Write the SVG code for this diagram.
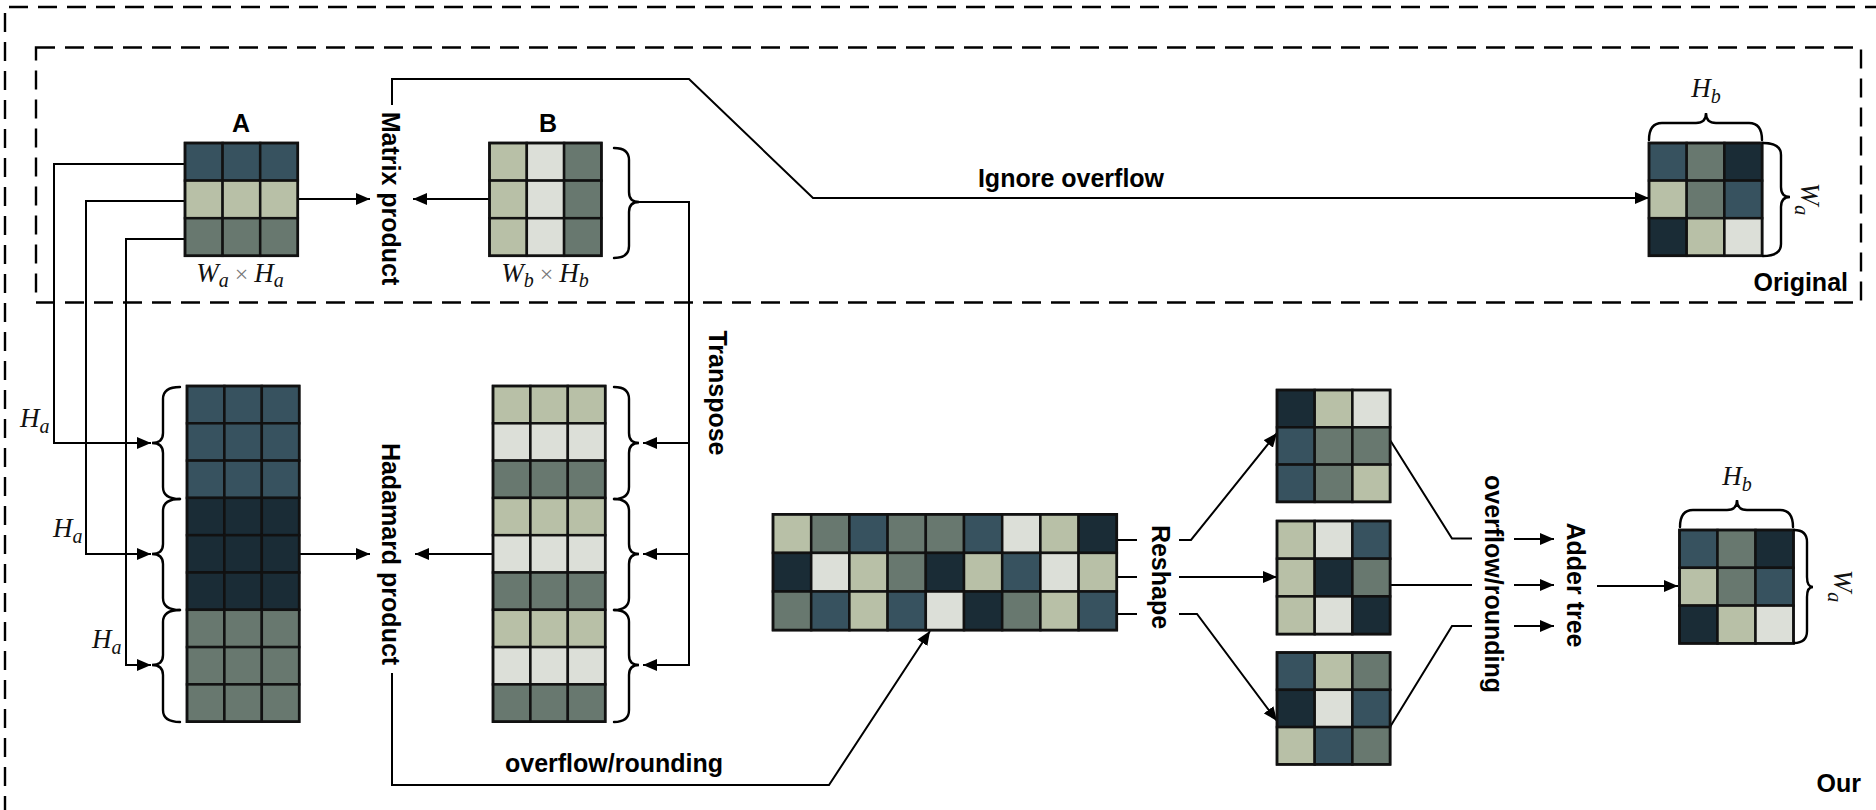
<svg xmlns="http://www.w3.org/2000/svg" width="1876" height="810" viewBox="0 0 1876 810">
  <defs>
    <style>
      .ln{fill:none;stroke:#000;stroke-width:2}
      .arr{marker-end:url(#ah)}
      .br{fill:none;stroke:#000;stroke-width:2.4;stroke-linecap:round}
      .dash{fill:none;stroke:#000;stroke-width:2.4;stroke-dasharray:19 10}
      .cells rect{stroke:#111;stroke-width:2.5}
      .frame{fill:none;stroke:#111;stroke-width:3.5}
      .s{fill:#37525f}.n{fill:#1a2c36}.g{fill:#68786f}.b{fill:#b8c0a7}.l{fill:#dcdfd8}
      .lbl{font-family:"Liberation Sans",Arial,sans-serif;font-weight:bold;font-size:25px;fill:#000}
      .m{font-family:"Liberation Serif","Times New Roman",serif;font-style:italic;font-size:27px;fill:#111}
      .sub{font-size:20px}
      .x{font-style:normal;fill:#777;font-size:24px}
    </style>
    <marker id="ah" markerUnits="userSpaceOnUse" markerWidth="15" markerHeight="12" refX="14" refY="6" orient="auto">
      <path d="M0,0 L14,6 L0,12 z" fill="#000"/>
    </marker>
  </defs>
  <rect width="1876" height="810" fill="#fff"/>

  <!-- dashed frames -->
  <g id="frames">
    <path class="dash" d="M5,815 V7 H1880"/>
    <rect class="dash" x="36" y="47.5" width="1825" height="255"/>
    <text class="lbl" x="1848" y="291" text-anchor="end">Original</text>
    <text class="lbl" x="1861" y="792" text-anchor="end">Our</text>
  </g>

  <!-- connectors -->
  <g id="connectors">
    <path class="ln arr" d="M185,164 H54 V443 H151"/>
    <path class="ln arr" d="M185,201 H86 V554 H151"/>
    <path class="ln arr" d="M185,239 H126 V665 H151"/>
    <path class="ln arr" d="M298,199 H370"/>
    <path class="ln arr" d="M489.5,199 H413"/>
    <path class="ln arr" d="M638,202 H689 V665 H643"/>
    <path class="ln arr" d="M689,443 H643"/>
    <path class="ln arr" d="M689,554 H643"/>
    <path class="ln arr" d="M392,105 V79 H689 L813,198 H1649"/>
    <path class="ln arr" d="M299,554 H370"/>
    <path class="ln arr" d="M493,554 H415"/>
    <path class="ln arr" d="M392,673 V785 H829 L930,631"/>
    <path class="ln" d="M1116,540 H1137 M1116,577 H1137 M1116,614 H1137"/>
    <path class="ln arr" d="M1179,540 H1191 L1277,433"/>
    <path class="ln arr" d="M1179,577 H1277"/>
    <path class="ln arr" d="M1179,614 H1197 L1277,721"/>
    <path class="ln" d="M1390,440 L1452,538.5 H1472 M1390,585 H1472 M1390,727 L1452,626 H1472"/>
    <path class="ln arr" d="M1514,539 H1554"/>
    <path class="ln arr" d="M1514,585 H1554"/>
    <path class="ln arr" d="M1514,626 H1554"/>
    <path class="ln arr" d="M1597,586 H1678"/>
  </g>

  <!-- operation labels -->
  <g id="ops">
    <text class="lbl" transform="translate(382,198.5) rotate(90)" text-anchor="middle">Matrix product</text>
    <text class="lbl" transform="translate(382,554) rotate(90)" text-anchor="middle">Hadamard product</text>
    <text class="lbl" transform="translate(709,393) rotate(90)" text-anchor="middle">Transpose</text>
    <text class="lbl" transform="translate(1151.5,577) rotate(90)" text-anchor="middle">Reshape</text>
    <text class="lbl" transform="translate(1485,584) rotate(90)" text-anchor="middle">overflow/rounding</text>
    <text class="lbl" transform="translate(1566.5,585) rotate(90)" text-anchor="middle">Adder tree</text>
    <text class="lbl" x="1071" y="187" text-anchor="middle">Ignore overflow</text>
    <text class="lbl" x="614" y="772" text-anchor="middle">overflow/rounding</text>
  </g>

  <!-- matrix A -->
  <g id="matA">
    <text class="lbl" x="241" y="132" text-anchor="middle">A</text>
    <g class="cells" transform="translate(185,143)">
      <rect class="s" x="0" y="0" width="37.6" height="37.6"/><rect class="s" x="37.6" y="0" width="37.6" height="37.6"/><rect class="s" x="75.2" y="0" width="37.6" height="37.6"/>
      <rect class="b" x="0" y="37.6" width="37.6" height="37.6"/><rect class="b" x="37.6" y="37.6" width="37.6" height="37.6"/><rect class="b" x="75.2" y="37.6" width="37.6" height="37.6"/>
      <rect class="g" x="0" y="75.2" width="37.6" height="37.6"/><rect class="g" x="37.6" y="75.2" width="37.6" height="37.6"/><rect class="g" x="75.2" y="75.2" width="37.6" height="37.6"/>
      <rect class="frame" x="0" y="0" width="112.8" height="112.8"/>
    </g>
    <text class="m" x="240" y="282" text-anchor="middle">W<tspan class="sub" dy="5">a</tspan><tspan class="x" dy="-5"> × </tspan>H<tspan class="sub" dy="5">a</tspan></text>
  </g>

  <!-- matrix B -->
  <g id="matB">
    <text class="lbl" x="548" y="132" text-anchor="middle">B</text>
    <g class="cells" transform="translate(489.5,143)">
      <rect class="b" x="0" y="0" width="37.3" height="37.6"/><rect class="l" x="37.3" y="0" width="37.3" height="37.6"/><rect class="g" x="74.6" y="0" width="37.3" height="37.6"/>
      <rect class="b" x="0" y="37.6" width="37.3" height="37.6"/><rect class="l" x="37.3" y="37.6" width="37.3" height="37.6"/><rect class="g" x="74.6" y="37.6" width="37.3" height="37.6"/>
      <rect class="b" x="0" y="75.2" width="37.3" height="37.6"/><rect class="l" x="37.3" y="75.2" width="37.3" height="37.6"/><rect class="g" x="74.6" y="75.2" width="37.3" height="37.6"/>
      <rect class="frame" x="0" y="0" width="111.9" height="112.8"/>
    </g>
    <path class="br" d="M614,148 Q629,148 629,160 V192 Q629,202 639,202 Q629,202 629,212 V246 Q629,258 614,258"/>
    <text class="m" x="545" y="282" text-anchor="middle">W<tspan class="sub" dy="5">b</tspan><tspan class="x" dy="-5"> × </tspan>H<tspan class="sub" dy="5">b</tspan></text>
  </g>

  <!-- A rows stacked into a column -->
  <g id="colA">
    <g class="cells" transform="translate(187,386)">
      <rect class="s" x="0" y="0" width="37.4" height="37.3"/><rect class="s" x="37.4" y="0" width="37.4" height="37.3"/><rect class="s" x="74.8" y="0" width="37.4" height="37.3"/>
      <rect class="s" x="0" y="37.3" width="37.4" height="37.3"/><rect class="s" x="37.4" y="37.3" width="37.4" height="37.3"/><rect class="s" x="74.8" y="37.3" width="37.4" height="37.3"/>
      <rect class="s" x="0" y="74.6" width="37.4" height="37.3"/><rect class="s" x="37.4" y="74.6" width="37.4" height="37.3"/><rect class="s" x="74.8" y="74.6" width="37.4" height="37.3"/>
      <rect class="n" x="0" y="111.9" width="37.4" height="37.3"/><rect class="n" x="37.4" y="111.9" width="37.4" height="37.3"/><rect class="n" x="74.8" y="111.9" width="37.4" height="37.3"/>
      <rect class="n" x="0" y="149.2" width="37.4" height="37.3"/><rect class="n" x="37.4" y="149.2" width="37.4" height="37.3"/><rect class="n" x="74.8" y="149.2" width="37.4" height="37.3"/>
      <rect class="n" x="0" y="186.5" width="37.4" height="37.3"/><rect class="n" x="37.4" y="186.5" width="37.4" height="37.3"/><rect class="n" x="74.8" y="186.5" width="37.4" height="37.3"/>
      <rect class="g" x="0" y="223.8" width="37.4" height="37.3"/><rect class="g" x="37.4" y="223.8" width="37.4" height="37.3"/><rect class="g" x="74.8" y="223.8" width="37.4" height="37.3"/>
      <rect class="g" x="0" y="261.1" width="37.4" height="37.3"/><rect class="g" x="37.4" y="261.1" width="37.4" height="37.3"/><rect class="g" x="74.8" y="261.1" width="37.4" height="37.3"/>
      <rect class="g" x="0" y="298.4" width="37.4" height="37.3"/><rect class="g" x="37.4" y="298.4" width="37.4" height="37.3"/><rect class="g" x="74.8" y="298.4" width="37.4" height="37.3"/>
      <rect class="frame" x="0" y="0" width="112.2" height="335.7"/>
    </g>
    <path class="br" d="M180,387 Q163,387 163,399 V433 Q163,443 152,443 Q163,443 163,453 V487 Q163,499 180,499"/>
    <path class="br" d="M180,499 Q163,499 163,511 V544 Q163,554 152,554 Q163,554 163,564 V598 Q163,610 180,610"/>
    <path class="br" d="M180,610 Q163,610 163,622 V655 Q163,665 152,665 Q163,665 163,675 V710 Q163,722 180,722"/>
    <text class="m" x="20" y="427" font-size="23">H<tspan class="sub" dy="6" font-size="17">a</tspan></text>
    <text class="m" x="53" y="537" font-size="23">H<tspan class="sub" dy="6" font-size="17">a</tspan></text>
    <text class="m" x="92" y="648" font-size="23">H<tspan class="sub" dy="6" font-size="17">a</tspan></text>
  </g>

  <!-- B transposed and tiled into a column -->
  <g id="colB">
    <g class="cells" transform="translate(493,386)">
      <rect class="b" x="0" y="0" width="37.4" height="37.3"/><rect class="b" x="37.4" y="0" width="37.4" height="37.3"/><rect class="b" x="74.8" y="0" width="37.4" height="37.3"/>
      <rect class="l" x="0" y="37.3" width="37.4" height="37.3"/><rect class="l" x="37.4" y="37.3" width="37.4" height="37.3"/><rect class="l" x="74.8" y="37.3" width="37.4" height="37.3"/>
      <rect class="g" x="0" y="74.6" width="37.4" height="37.3"/><rect class="g" x="37.4" y="74.6" width="37.4" height="37.3"/><rect class="g" x="74.8" y="74.6" width="37.4" height="37.3"/>
      <rect class="b" x="0" y="111.9" width="37.4" height="37.3"/><rect class="b" x="37.4" y="111.9" width="37.4" height="37.3"/><rect class="b" x="74.8" y="111.9" width="37.4" height="37.3"/>
      <rect class="l" x="0" y="149.2" width="37.4" height="37.3"/><rect class="l" x="37.4" y="149.2" width="37.4" height="37.3"/><rect class="l" x="74.8" y="149.2" width="37.4" height="37.3"/>
      <rect class="g" x="0" y="186.5" width="37.4" height="37.3"/><rect class="g" x="37.4" y="186.5" width="37.4" height="37.3"/><rect class="g" x="74.8" y="186.5" width="37.4" height="37.3"/>
      <rect class="b" x="0" y="223.8" width="37.4" height="37.3"/><rect class="b" x="37.4" y="223.8" width="37.4" height="37.3"/><rect class="b" x="74.8" y="223.8" width="37.4" height="37.3"/>
      <rect class="l" x="0" y="261.1" width="37.4" height="37.3"/><rect class="l" x="37.4" y="261.1" width="37.4" height="37.3"/><rect class="l" x="74.8" y="261.1" width="37.4" height="37.3"/>
      <rect class="g" x="0" y="298.4" width="37.4" height="37.3"/><rect class="g" x="37.4" y="298.4" width="37.4" height="37.3"/><rect class="g" x="74.8" y="298.4" width="37.4" height="37.3"/>
      <rect class="frame" x="0" y="0" width="112.2" height="335.7"/>
    </g>
    <path class="br" d="M614,387 Q629,387 629,399 V433 Q629,443 639,443 Q629,443 629,453 V487 Q629,499 614,499"/>
    <path class="br" d="M614,499 Q629,499 629,511 V544 Q629,554 639,554 Q629,554 629,564 V598 Q629,610 614,610"/>
    <path class="br" d="M614,610 Q629,610 629,622 V655 Q629,665 639,665 Q629,665 629,675 V710 Q629,722 614,722"/>
  </g>

  <!-- result of the original product -->
  <g id="resOrig">
    <g class="cells" transform="translate(1649,143)">
      <rect class="s" x="0" y="0" width="37.7" height="37.6"/><rect class="g" x="37.7" y="0" width="37.7" height="37.6"/><rect class="n" x="75.4" y="0" width="37.7" height="37.6"/>
      <rect class="b" x="0" y="37.6" width="37.7" height="37.6"/><rect class="g" x="37.7" y="37.6" width="37.7" height="37.6"/><rect class="s" x="75.4" y="37.6" width="37.7" height="37.6"/>
      <rect class="n" x="0" y="75.2" width="37.7" height="37.6"/><rect class="b" x="37.7" y="75.2" width="37.7" height="37.6"/><rect class="l" x="75.4" y="75.2" width="37.7" height="37.6"/>
      <rect class="frame" x="0" y="0" width="113.1" height="112.8"/>
    </g>
    <path class="br" d="M1649,140 Q1649,123 1662,123 H1696 Q1706,123 1706,113 Q1706,123 1716,123 H1749 Q1762,123 1762,140"/>
    <path class="br" d="M1763,143 Q1781,143 1781,155 V187 Q1781,197 1790,197 Q1781,197 1781,207 V244 Q1781,256 1763,256"/>
    <text class="m" x="1706" y="97" text-anchor="middle" font-size="24">H<tspan class="sub" dy="6" font-size="18">b</tspan></text>
    <text class="m" transform="translate(1801,199) rotate(90)" text-anchor="middle">W<tspan class="sub" dy="6">a</tspan></text>
  </g>

  <!-- Hadamard result laid out flat -->
  <g id="flat">
    <g class="cells" transform="translate(773,514.3)">
      <rect class="b" x="0" y="0" width="38.2" height="38.6"/><rect class="g" x="38.2" y="0" width="38.2" height="38.6"/><rect class="s" x="76.4" y="0" width="38.2" height="38.6"/><rect class="g" x="114.6" y="0" width="38.2" height="38.6"/><rect class="g" x="152.8" y="0" width="38.2" height="38.6"/><rect class="s" x="191" y="0" width="38.2" height="38.6"/><rect class="l" x="229.2" y="0" width="38.2" height="38.6"/><rect class="b" x="267.4" y="0" width="38.2" height="38.6"/><rect class="n" x="305.6" y="0" width="38.2" height="38.6"/>
      <rect class="n" x="0" y="38.6" width="38.2" height="38.6"/><rect class="l" x="38.2" y="38.6" width="38.2" height="38.6"/><rect class="b" x="76.4" y="38.6" width="38.2" height="38.6"/><rect class="g" x="114.6" y="38.6" width="38.2" height="38.6"/><rect class="n" x="152.8" y="38.6" width="38.2" height="38.6"/><rect class="b" x="191" y="38.6" width="38.2" height="38.6"/><rect class="s" x="229.2" y="38.6" width="38.2" height="38.6"/><rect class="l" x="267.4" y="38.6" width="38.2" height="38.6"/><rect class="b" x="305.6" y="38.6" width="38.2" height="38.6"/>
      <rect class="g" x="0" y="77.2" width="38.2" height="38.6"/><rect class="s" x="38.2" y="77.2" width="38.2" height="38.6"/><rect class="b" x="76.4" y="77.2" width="38.2" height="38.6"/><rect class="s" x="114.6" y="77.2" width="38.2" height="38.6"/><rect class="l" x="152.8" y="77.2" width="38.2" height="38.6"/><rect class="n" x="191" y="77.2" width="38.2" height="38.6"/><rect class="g" x="229.2" y="77.2" width="38.2" height="38.6"/><rect class="b" x="267.4" y="77.2" width="38.2" height="38.6"/><rect class="s" x="305.6" y="77.2" width="38.2" height="38.6"/>
      <rect class="frame" x="0" y="0" width="343.8" height="115.8"/>
    </g>
  </g>

  <!-- reshaped blocks -->
  <g id="blk1">
    <g class="cells" transform="translate(1277,390)">
      <rect class="n" x="0" y="0" width="37.7" height="37.3"/><rect class="b" x="37.7" y="0" width="37.7" height="37.3"/><rect class="l" x="75.4" y="0" width="37.7" height="37.3"/>
      <rect class="s" x="0" y="37.3" width="37.7" height="37.3"/><rect class="g" x="37.7" y="37.3" width="37.7" height="37.3"/><rect class="g" x="75.4" y="37.3" width="37.7" height="37.3"/>
      <rect class="s" x="0" y="74.6" width="37.7" height="37.3"/><rect class="g" x="37.7" y="74.6" width="37.7" height="37.3"/><rect class="b" x="75.4" y="74.6" width="37.7" height="37.3"/>
      <rect class="frame" x="0" y="0" width="113.1" height="111.9"/>
    </g>
  </g>
  <g id="blk2">
    <g class="cells" transform="translate(1277,521)">
      <rect class="b" x="0" y="0" width="37.7" height="37.7"/><rect class="l" x="37.7" y="0" width="37.7" height="37.7"/><rect class="s" x="75.4" y="0" width="37.7" height="37.7"/>
      <rect class="b" x="0" y="37.7" width="37.7" height="37.7"/><rect class="n" x="37.7" y="37.7" width="37.7" height="37.7"/><rect class="g" x="75.4" y="37.7" width="37.7" height="37.7"/>
      <rect class="b" x="0" y="75.4" width="37.7" height="37.7"/><rect class="l" x="37.7" y="75.4" width="37.7" height="37.7"/><rect class="n" x="75.4" y="75.4" width="37.7" height="37.7"/>
      <rect class="frame" x="0" y="0" width="113.1" height="113.1"/>
    </g>
  </g>
  <g id="blk3">
    <g class="cells" transform="translate(1277,652.5)">
      <rect class="s" x="0" y="0" width="37.7" height="37.3"/><rect class="b" x="37.7" y="0" width="37.7" height="37.3"/><rect class="g" x="75.4" y="0" width="37.7" height="37.3"/>
      <rect class="n" x="0" y="37.3" width="37.7" height="37.3"/><rect class="l" x="37.7" y="37.3" width="37.7" height="37.3"/><rect class="s" x="75.4" y="37.3" width="37.7" height="37.3"/>
      <rect class="b" x="0" y="74.6" width="37.7" height="37.3"/><rect class="s" x="37.7" y="74.6" width="37.7" height="37.3"/><rect class="g" x="75.4" y="74.6" width="37.7" height="37.3"/>
      <rect class="frame" x="0" y="0" width="113.1" height="111.9"/>
    </g>
  </g>

  <!-- result of the proposed scheme -->
  <g id="resOur">
    <g class="cells" transform="translate(1679.5,530)">
      <rect class="s" x="0" y="0" width="38" height="37.8"/><rect class="g" x="38" y="0" width="38" height="37.8"/><rect class="n" x="76" y="0" width="38" height="37.8"/>
      <rect class="b" x="0" y="37.8" width="38" height="37.8"/><rect class="g" x="38" y="37.8" width="38" height="37.8"/><rect class="s" x="76" y="37.8" width="38" height="37.8"/>
      <rect class="n" x="0" y="75.6" width="38" height="37.8"/><rect class="b" x="38" y="75.6" width="38" height="37.8"/><rect class="l" x="76" y="75.6" width="38" height="37.8"/>
      <rect class="frame" x="0" y="0" width="114" height="113.4"/>
    </g>
    <path class="br" d="M1680,527 Q1680,510 1693,510 H1727 Q1737,510 1737,500 Q1737,510 1747,510 H1780 Q1793,510 1793,527"/>
    <path class="br" d="M1794,530 Q1807,530 1807,542 V577 Q1807,587 1813,587 Q1807,587 1807,597 V631 Q1807,643 1794,643"/>
    <text class="m" x="1737" y="485" text-anchor="middle" font-size="24">H<tspan class="sub" dy="6" font-size="18">b</tspan></text>
    <text class="m" transform="translate(1834,586) rotate(90)" text-anchor="middle">W<tspan class="sub" dy="6">a</tspan></text>
  </g>
</svg>
